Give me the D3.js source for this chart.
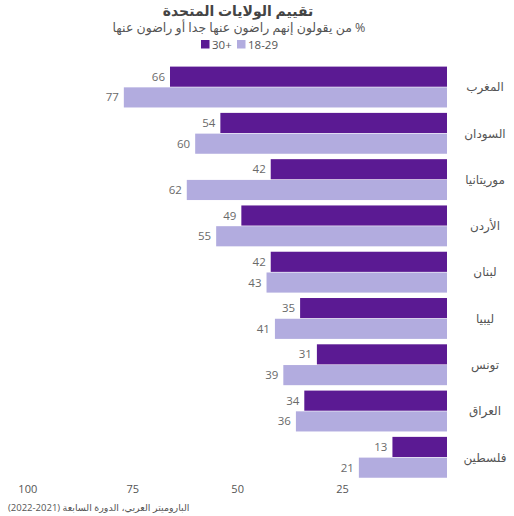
<!DOCTYPE html>
<html><head><meta charset="utf-8">
<script src="https://cdn.jsdelivr.net/npm/d3@7"></script>
<style>
body{margin:0;background:#fff;}
text{font-family:"Open Sans","Noto Sans","DejaVu Sans",sans-serif;}
</style></head>
<body><svg id="c" width="514" height="516"></svg>
<script>
const countries = ["المغرب","السودان","موريتانيا","الأردن","لبنان","ليبيا","تونس","العراق","فلسطين"];
const older = [66,54,42,49,42,35,31,34,13];   // 30+
const younger = [77,60,62,55,43,41,39,36,21]; // 18-29
const seriesNames = ["30+","18-29"];
const ticks = [100,75,50,25];
const colors = ["#5b1a93","#b2acdf"];

const svg = d3.select("#c");
const x = d3.scaleLinear().domain([0,100]).range([447,27.3]);
const step = 45.75;
const yb = d3.scaleBand().domain(countries).range([66.3, 66.3 + 9*step]).paddingInner(4.75/step).paddingOuter(0).align(0);
const yIn = d3.scaleBand().domain(seriesNames).range([0, yb.bandwidth()]);

const g = svg.append("g");
countries.forEach((c,i)=>{
  const vals = [older[i], younger[i]];
  const gg = g.append("g").attr("transform",`translate(0,${yb(c)})`);
  seriesNames.forEach((s,j)=>{
    gg.append("rect")
      .attr("x", x(vals[j])).attr("width", x(0)-x(vals[j]))
      .attr("y", yIn(s)+0.3).attr("height", yIn.bandwidth()-0.6)
      .attr("fill", colors[j]);
    gg.append("text")
      .attr("x", x(vals[j]) - 5).attr("y", yIn(s)+yIn.bandwidth()/2)
      .attr("dy","0.35em").attr("text-anchor","end")
      .attr("font-size",11.5).attr("fill","#6a6a6a")
      .text(vals[j]);
  });
  svg.append("text")
    .attr("x", 485).attr("y", yb(c)+yb.bandwidth()/2)
    .attr("dy","0.35em").attr("text-anchor","middle")
    .attr("font-size",12).attr("fill","#555")
    .text(c);
});

// axis
const ax = svg.append("g").attr("transform","translate(0,480)")
  .call(d3.axisBottom(x).tickValues(ticks).tickSize(0).tickPadding(5));
ax.select(".domain").remove();
ax.selectAll("text").attr("font-size",11).attr("fill","#555").attr("font-family","Open Sans, sans-serif");

// title
svg.append("text").attr("x",238).attr("y",16).attr("text-anchor","middle")
  .attr("font-size",14).attr("font-weight","bold").attr("fill","#444")
  .text("تقييم الولايات المتحدة");
svg.append("text").attr("x",239).attr("y",31.5).attr("text-anchor","middle")
  .attr("direction","rtl")
  .attr("font-size",12.5).attr("fill","#555")
  .text("% من يقولون إنهم راضون عنها جدا أو راضون عنها");

// legend
const lg = svg.append("g");
lg.append("rect").attr("x",201).attr("y",40).attr("width",8.5).attr("height",8.5).attr("fill",colors[0]);
lg.append("text").attr("x",212).attr("y",44.5).attr("dy","0.35em").attr("font-size",11.5).attr("fill","#555").text(seriesNames[0]);
lg.append("rect").attr("x",237).attr("y",40).attr("width",8.5).attr("height",8.5).attr("fill",colors[1]);
lg.append("text").attr("x",248).attr("y",44.5).attr("dy","0.35em").attr("font-size",11.5).attr("fill","#555").text(seriesNames[1]);

// footer
svg.append("text").attr("x",8).attr("y",511).attr("font-size",9.5).attr("fill","#555")
  .attr("direction","rtl").attr("text-anchor","end")
  .text("الباروميتر العربي، الدورة السابعة (2021-2022)");
</script></body></html>
